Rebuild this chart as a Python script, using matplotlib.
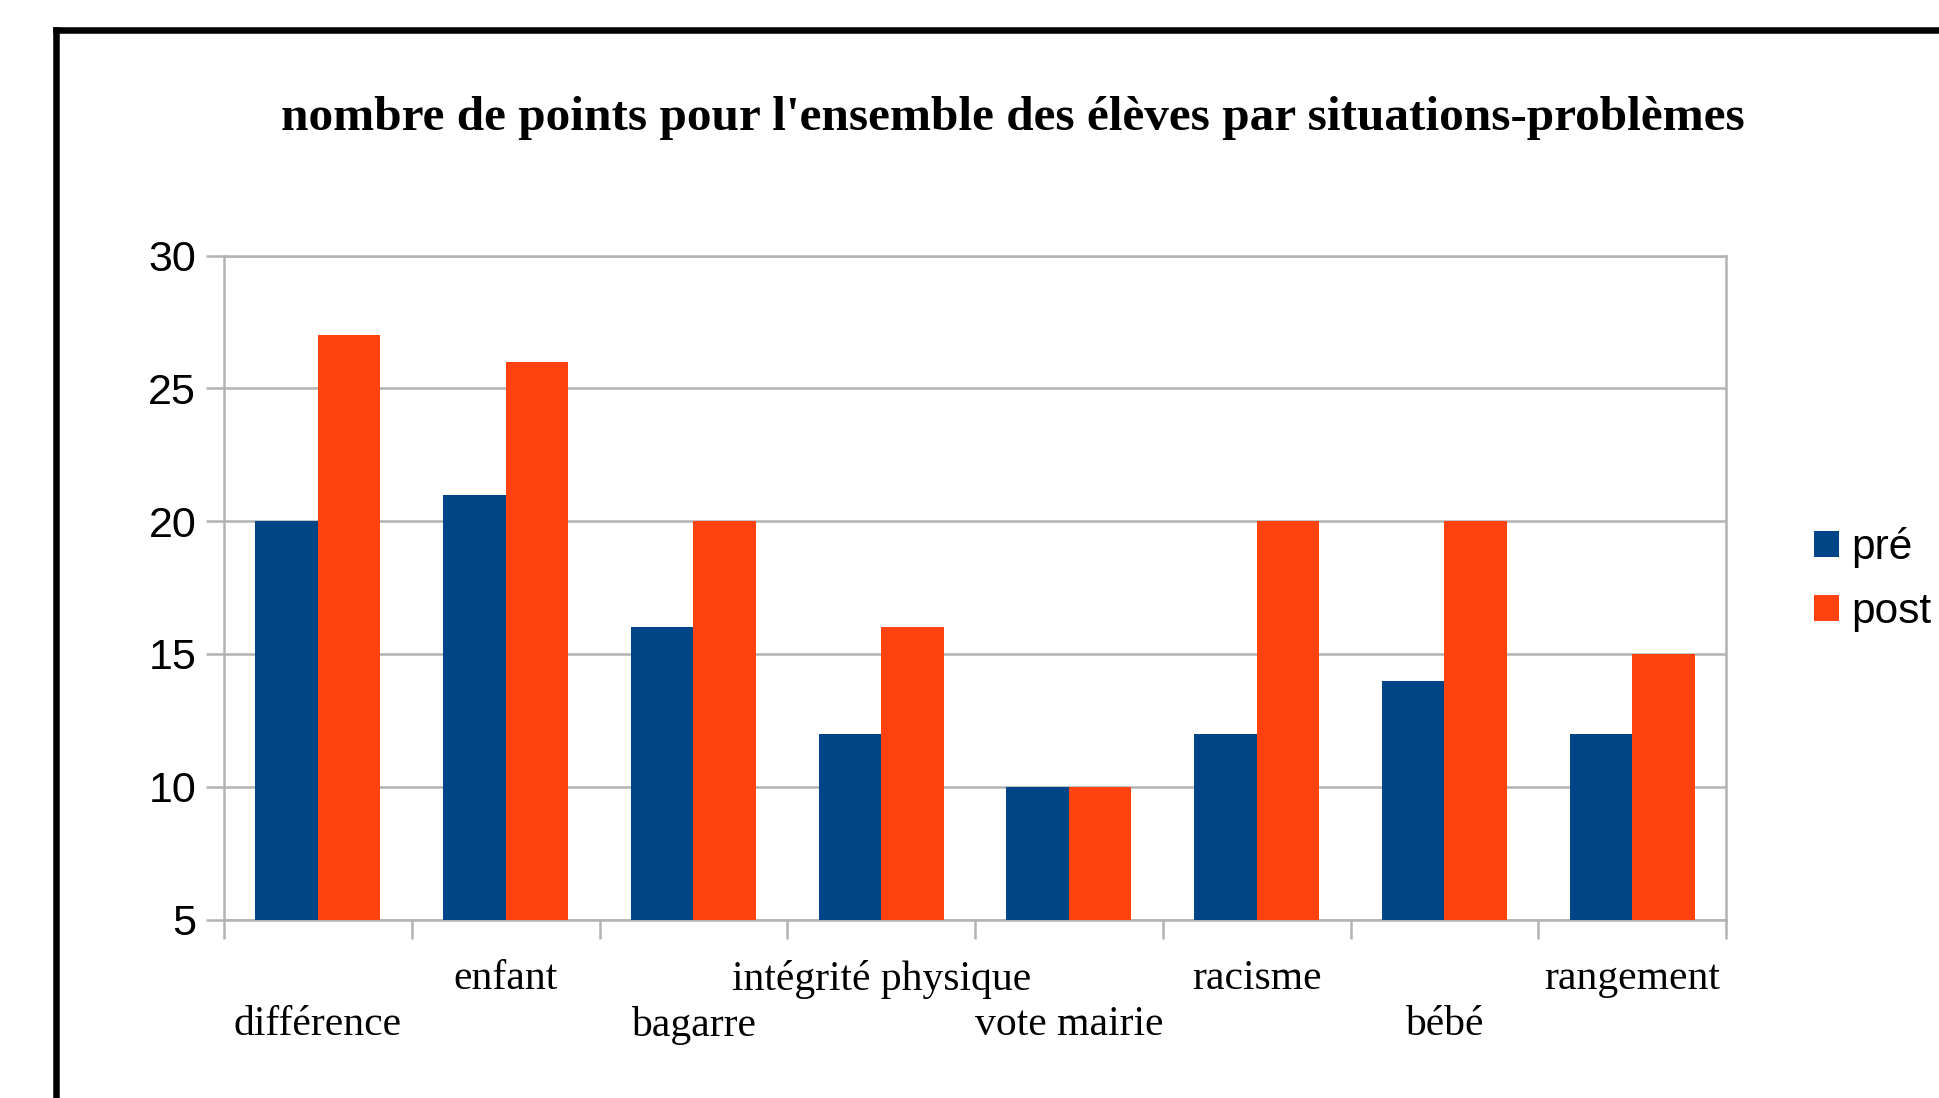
"""Bar chart: points per situation, before and after."""

import matplotlib.pyplot as plt
import numpy as np
from matplotlib.lines import Line2D

categories = ["différence", "enfant", "bagarre", "intégrité physique",
              "vote mairie", "racisme", "bébé", "rangement"]
pre = [20, 21, 16, 12, 10, 12, 14, 12]
post = [27, 26, 20, 16, 10, 20, 20, 15]
series_names = ["pré", "post"]
y_ticks = [5, 10, 15, 20, 25, 30]

W, H = 1939, 1098
fig = plt.figure(figsize=(W / 100, H / 100), dpi=100)
fig.patch.set_facecolor("white")

grey = "#b3b3b3"
blue = "#004586"
orange = "#ff420e"
serif = ["Liberation Serif", "DejaVu Serif"]
sans = ["Liberation Sans", "DejaVu Sans"]

# plot area in pixels: x 224..1726, y 256..920
ax = fig.add_axes([224 / W, 1 - 919.5 / H, (1726 - 224) / W, (919.5 - 255.7) / H])

x = np.arange(len(categories))
w = 1 / 3
ax.bar(x - w / 2, pre, width=w, bottom=0, color=blue, label=series_names[0], zorder=3)
ax.bar(x + w / 2, post, width=w, bottom=0, color=orange, label=series_names[1], zorder=3)

ax.set_xlim(-0.5, len(categories) - 0.5)
ax.set_ylim(5, 30)
ax.set_yticks(y_ticks)
ax.set_yticklabels([str(v) for v in y_ticks], family=sans, fontsize=31)
ax.yaxis.grid(True, color=grey, linewidth=1.8, zorder=0)
ax.set_axisbelow(True)
for s in ax.spines.values():
    s.set_color(grey)
    s.set_linewidth(1.8)

ax.tick_params(axis="y", length=13, width=1.8, color=grey, pad=7)

# category labels on two staggered rows, boundary ticks as minor ticks
ax.set_xticks(x)
ax.set_xticklabels(categories, family=serif, fontsize=30)
ax.set_xticks(np.arange(-0.5, len(categories)), minor=True)
ax.tick_params(axis="x", which="major", length=0, pad=29)
ax.tick_params(axis="x", which="minor", length=14, width=1.8, color=grey)
for i, lab in enumerate(ax.get_xticklabels()):
    if i % 2 == 0:
        lab.set_y(-46 / (919.5 - 255.7))

fig.text(1013 / W, 1 - 130 / H, "nombre de points pour l'ensemble des élèves par situations-problèmes",
         ha="center", va="baseline", family=serif, fontweight="bold", fontsize=35.5)

fig.legend(loc="center left", bbox_to_anchor=(1814 / W, 1 - 579.5 / H), frameon=False,
           prop={"family": sans, "size": 30.5}, handlelength=0.59, handleheight=0.57,
           handletextpad=0.28, labelspacing=0.55, borderpad=0, borderaxespad=0)

# black frame that runs off the right and bottom of the image
fig.add_artist(Line2D([56 / W, 56 / W], [1 - 30 / H, -0.1], color="black",
                      linewidth=4.7, transform=fig.transFigure, solid_capstyle="projecting"))
fig.add_artist(Line2D([56 / W, 1.1], [1 - 30 / H, 1 - 30 / H], color="black",
                      linewidth=4.7, transform=fig.transFigure, solid_capstyle="projecting"))

fig.savefig("out.png", dpi=100)
